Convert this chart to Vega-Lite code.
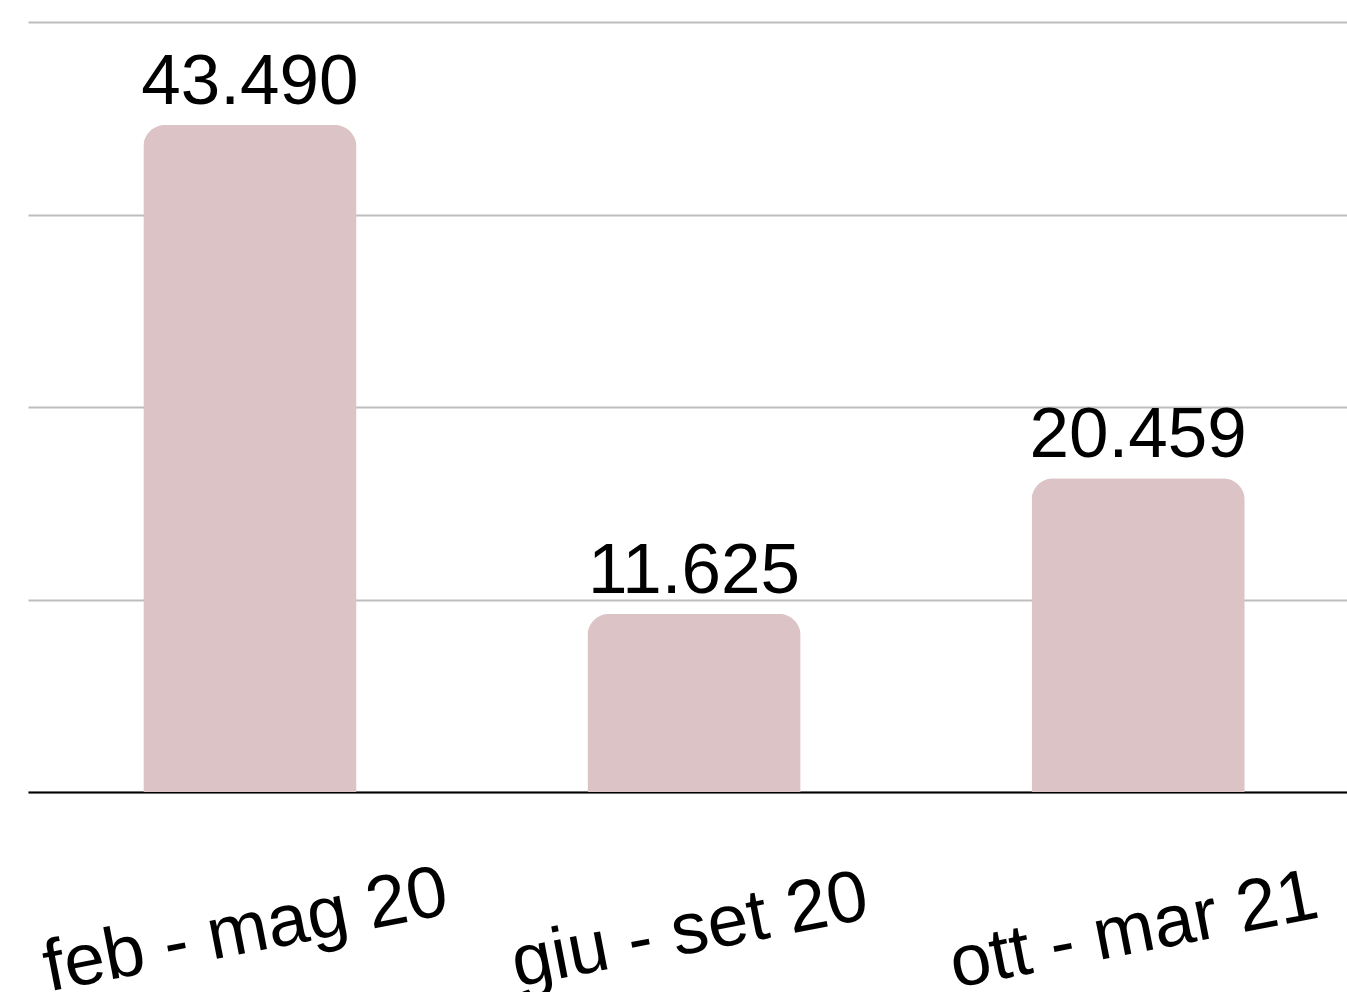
{
  "$schema": "https://vega.github.io/schema/vega-lite/v6.json",
  "width": 1319,
  "height": 770,
  "autosize": {"type": "none"},
  "padding": {"left": 28, "top": 22, "right": 0, "bottom": 200},
  "background": "#ffffff",
  "config": {
    "view": {"stroke": null},
    "font": "Liberation Sans"
  },
  "data": {
    "values": [
      {"periodo": "feb - mag 20", "valore": 43490, "etichetta": "43.490"},
      {"periodo": "giu - set 20", "valore": 11625, "etichetta": "11.625"},
      {"periodo": "ott - mar 21", "valore": 20459, "etichetta": "20.459"}
    ]
  },
  "encoding": {
    "x": {
      "field": "periodo",
      "type": "nominal",
      "sort": null,
      "title": null,
      "scale": {"paddingInner": 0.52, "paddingOuter": 0.245, "align": 0.53},
      "axis": {
        "domain": true,
        "domainColor": "#000000",
        "domainWidth": 2,
        "ticks": false,
        "tickSize": 0,
        "labelAngle": -11,
        "labelAlign": "center",
        "labelBaseline": "alphabetic",
        "labelPadding": 160,
        "labelFontSize": 73,
        "labelFont": "Liberation Sans",
        "labelColor": "#000000",
        "labelLimit": 0,
        "labelOverlap": false,
        "labelFlush": false,
        "labelBound": false,
        "grid": false
      }
    },
    "y": {
      "field": "valore",
      "type": "quantitative",
      "title": null,
      "scale": {"domain": [0, 50200], "nice": false},
      "axis": {
        "values": [0, 12550, 25100, 37650, 50200],
        "labels": false,
        "ticks": false,
        "domain": false,
        "grid": true,
        "gridColor": "#bdbdbd",
        "gridWidth": 2
      }
    }
  },
  "layer": [
    {
      "mark": {
        "type": "bar",
        "color": "#dbc3c6",
        "cornerRadiusTopLeft": 22,
        "cornerRadiusTopRight": 22
      }
    },
    {
      "mark": {
        "type": "text",
        "baseline": "alphabetic",
        "align": "center",
        "dy": -21,
        "fontSize": 71,
        "font": "Liberation Sans",
        "color": "#000000"
      },
      "encoding": {
        "text": {"field": "etichetta", "type": "nominal"}
      }
    }
  ]
}
